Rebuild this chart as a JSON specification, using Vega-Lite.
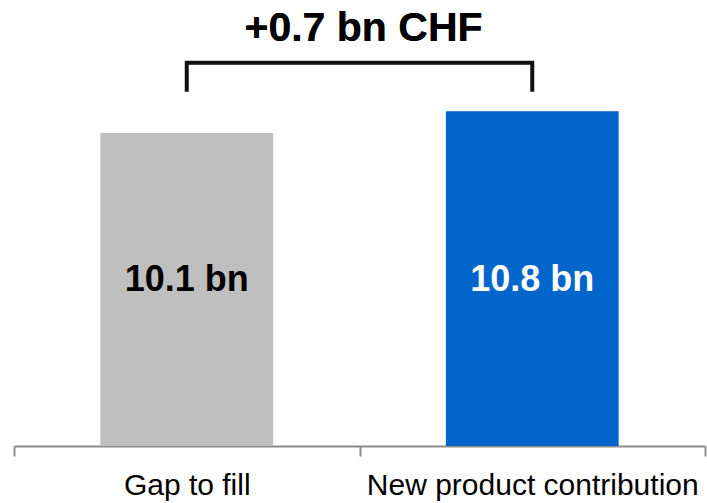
{
  "$schema": "https://vega.github.io/schema/vega-lite/v6.json",
  "width": 691,
  "height": 446,
  "autosize": {"type": "none"},
  "padding": {"left": 14, "top": 0, "right": 2, "bottom": 57},
  "background": "white",
  "config": {"view": {"stroke": null}, "font": "Liberation Sans"},
  "data": {"values": [
    {"cat": "Gap to fill", "value": 10.1, "label": "10.1 bn"},
    {"cat": "New product contribution", "value": 10.8, "label": "10.8 bn"}
  ]},
  "encoding": {
    "x": {
      "field": "cat", "type": "nominal", "sort": null,
      "scale": {"paddingInner": 0, "paddingOuter": 0},
      "axis": {
        "title": null, "labelAngle": 0, "tickBand": "extent", "tickExtra": true,
        "domainColor": "#8c8c8c", "domainWidth": 2,
        "tickColor": "#8c8c8c", "tickWidth": 2, "tickSize": 10,
        "labelFontSize": 30, "labelColor": "#000000", "labelFont": "Liberation Sans",
        "labelPadding": 14, "labelLimit": 0
      }
    }
  },
  "layer": [
    {
      "mark": {"type": "bar", "width": {"band": 0.5}},
      "encoding": {
        "y": {"field": "value", "type": "quantitative", "scale": {"domain": [0, 14.387], "nice": false, "zero": true}, "axis": null},
        "color": {"field": "cat", "type": "nominal", "scale": {"domain": ["Gap to fill", "New product contribution"], "range": ["#bfbfbf", "#0066cc"]}, "legend": null}
      }
    },
    {
      "mark": {"type": "text", "fontSize": 36, "fontWeight": "bold", "baseline": "middle", "align": "center"},
      "encoding": {
        "y": {"datum": 5.37, "type": "quantitative"},
        "text": {"field": "label"},
        "color": {"condition": {"test": "datum.cat === 'New product contribution'", "value": "#ffffff"}, "value": "#000000"}
      }
    },
    {
      "data": {"values": [
        {"cat": "Gap to fill", "v": 11.43, "o": 1},
        {"cat": "Gap to fill", "v": 12.36, "o": 2},
        {"cat": "New product contribution", "v": 12.36, "o": 3},
        {"cat": "New product contribution", "v": 11.43, "o": 4}
      ]},
      "mark": {"type": "line", "color": "#111111", "strokeWidth": 4, "strokeJoin": "miter", "strokeCap": "butt"},
      "encoding": {
        "y": {"field": "v", "type": "quantitative"},
        "order": {"field": "o", "type": "quantitative"}
      }
    },
    {
      "mark": {"type": "text", "fontSize": 41, "fontWeight": "bold", "baseline": "alphabetic", "align": "center", "color": "#000000", "dx": 4},
      "encoding": {
        "x": {"datum": "Gap to fill", "bandPosition": 1},
        "y": {"datum": 13.06, "type": "quantitative"},
        "text": {"value": "+0.7 bn CHF"}
      }
    }
  ]
}
